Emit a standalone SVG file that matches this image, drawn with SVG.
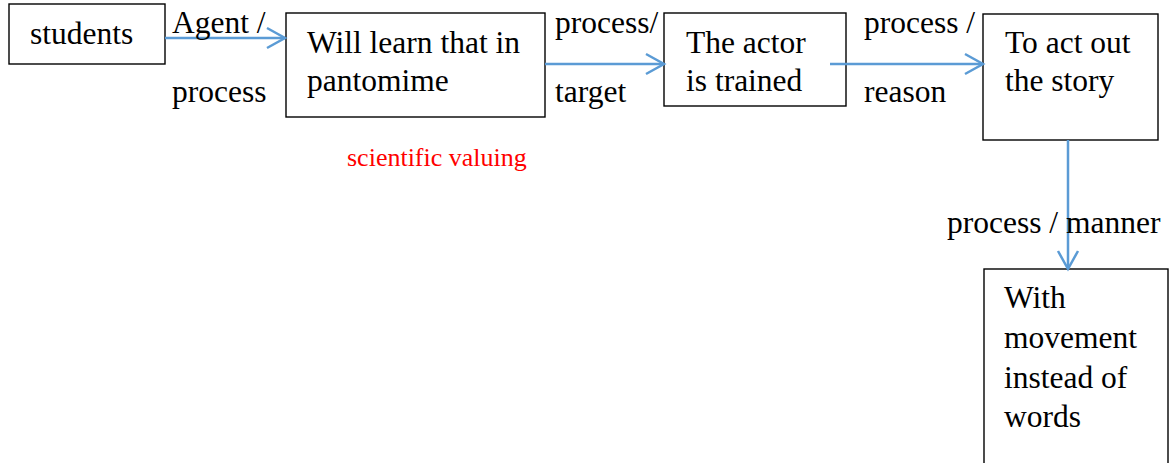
<svg xmlns="http://www.w3.org/2000/svg" width="1169" height="463" viewBox="0 0 1169 463">
<style>
.box{fill:#fff;stroke:#000;stroke-width:1.4}
.t{font-family:"Liberation Serif",Tinos,"Times New Roman","DejaVu Serif",serif;font-size:31.5px;fill:#000}
.red{font-family:"Liberation Serif",Tinos,"Times New Roman","DejaVu Serif",serif;font-size:26px;fill:#ff0000}
.c{fill:none;stroke:#5B9BD5;stroke-width:2.5}
</style>
<defs>
<marker id="arr" markerUnits="userSpaceOnUse" markerWidth="24" markerHeight="24" viewBox="-20 -12 24 24" refX="0" refY="0" orient="auto">
<path d="M-18,-10 L0,0 L-18,10" fill="none" stroke="#5B9BD5" stroke-width="2.5"/>
</marker>
</defs>
<g id="n-students"><rect class="box" x="9" y="4" width="156" height="60"/><text class="t" x="30" y="44">students</text></g>
<g id="n-learn"><rect class="box" x="286" y="13" width="259" height="104"/><text class="t" x="307" y="53">Will learn that in</text><text class="t" x="307" y="91">pantomime</text></g>
<g id="n-actor"><rect class="box" x="664" y="13" width="182" height="93"/><text class="t" x="686" y="53">The actor</text><text class="t" x="686" y="91">is trained</text></g>
<g id="n-story"><rect class="box" x="983" y="14" width="175" height="126"/><text class="t" x="1005" y="53">To act out</text><text class="t" x="1005" y="91">the story</text></g>
<g id="n-movement"><rect class="box" x="984" y="269" width="184" height="200"/><text class="t" x="1004" y="308">With</text><text class="t" x="1004" y="348">movement</text><text class="t" x="1004" y="388">instead of</text><text class="t" x="1004" y="427">words</text></g>
<g id="connectors">
<line class="c" x1="165" y1="38" x2="285" y2="38" marker-end="url(#arr)"/>
<line class="c" x1="545" y1="64" x2="664" y2="64" marker-end="url(#arr)"/>
<line class="c" x1="830" y1="64" x2="983" y2="64" marker-end="url(#arr)"/>
<line class="c" x1="1068" y1="140" x2="1068" y2="269" marker-end="url(#arr)"/>
</g>
<g id="labels">
<text class="t" x="172" y="33">Agent /</text>
<text class="t" x="172" y="102">process</text>
<text class="t" x="555" y="33">process/</text>
<text class="t" x="555" y="102">target</text>
<text class="t" x="864" y="33">process /</text>
<text class="t" x="864" y="102">reason</text>
<text class="t" x="947" y="233">process / manner</text>
<text class="red" x="347" y="166">scientific valuing</text>
</g>
</svg>
